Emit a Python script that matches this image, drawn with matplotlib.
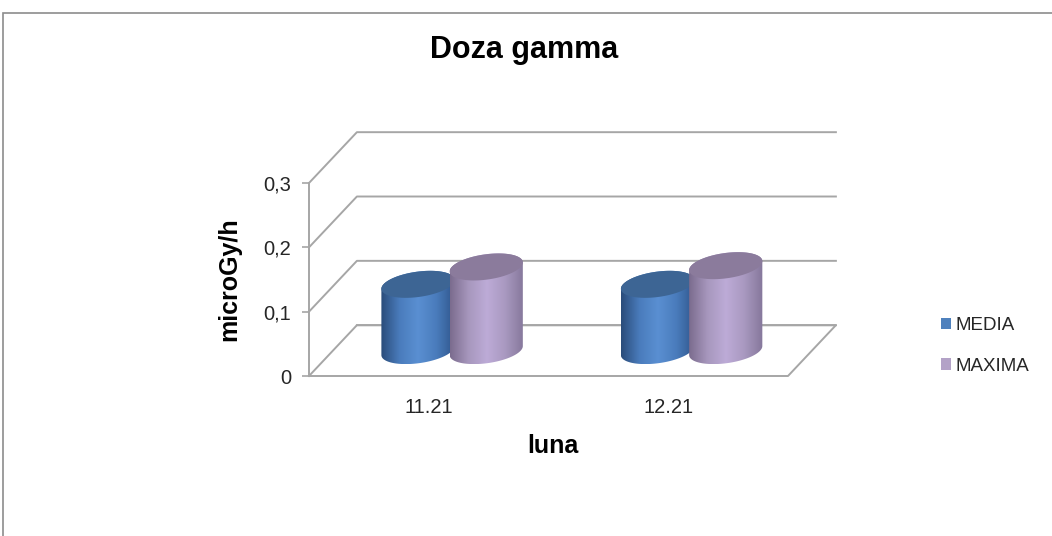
import matplotlib
matplotlib.use("Agg")
import matplotlib.pyplot as plt
import numpy as np
from matplotlib.patches import Polygon, Patch, Rectangle
from matplotlib.colors import LinearSegmentedColormap

plt.rcParams['font.family'] = ['Liberation Sans', 'DejaVu Sans']

# date
luni = ['11.21', '12.21']
media = [0.103, 0.103]
maxima = [0.130, 0.132]
serii = ['MEDIA', 'MAXIMA']
y_ticks = [0, 0.1, 0.2, 0.3]
y_tick_labels = ['0', '0,1', '0,2', '0,3']

# geometrie 3D (oblica) in unitati de date
DX, DY = 0.2, 0.079          # adancimea peretelui din spate
HALF_W = 0.144               # raza cilindrului pe x
BX, BY = 0.051, 0.021        # raza cilindrului pe adancime
OFFS = [-0.145, 0.14]        # pozitia seriilor in categorie
GRID = '#a6a6a6'

body_cols = [['#2a4c7a', '#4a7cbc', '#5a8fd2', '#4a7cbc', '#2f568c'],
             ['#7b6c8e', '#a797bd', '#bdabd7', '#a999c0', '#85779b']]
top_cols = ['#3d6594', '#8b7b9c']

fig = plt.figure(figsize=(10.52, 5.36), dpi=100)
ax = fig.add_axes([309 / 1052, 160 / 536, 479 / 1052, 193 / 536])
ax.set_xlim(0, len(luni))
ax.set_ylim(0, 0.3)

# chenarul graficului
fig.patches.append(Rectangle((3 / 1052, -0.05), 1.2, 1 - 13 / 536 + 0.05,
                             transform=fig.transFigure, fill=False,
                             edgecolor='#8c8c8c', linewidth=1.2))

# pereti si linii de grila
n = len(luni)
for v in y_ticks:
    ax.plot([0, DX, n + DX], [v, v + DY, v + DY], color=GRID, lw=1.4,
            clip_on=False, zorder=1)
ax.plot([DX, n + DX, n, 0], [DY, DY, 0, 0], color=GRID, lw=1.4,
        clip_on=False, zorder=1)


def ellipse(cx, cy, t):
    return cx + HALF_W * np.cos(t) + BX * np.sin(t), cy + BY * np.sin(t)


def cylinder(cx, val, k):
    base = DY / 2
    cx = cx + DX / 2
    t = np.linspace(0, 2 * np.pi, 361)[:-1]
    xb, yb = ellipse(cx, base, t)
    i_min, i_max = np.argmin(xb), np.argmax(xb)
    # arcul de jos al bazei si arcul de sus al capacului
    idx = np.arange(len(t))
    a1 = idx[(idx >= min(i_min, i_max)) & (idx <= max(i_min, i_max))]
    a2 = np.concatenate([idx[idx >= max(i_min, i_max)], idx[idx <= min(i_min, i_max)]])
    low = a1 if yb[a1].mean() < yb[a2].mean() else a2
    high = a2 if low is a1 else a1
    lx, ly = xb[low], yb[low]
    order = np.argsort(lx)
    hx, hy = xb[high], yb[high] + val
    order2 = np.argsort(hx)[::-1]
    pts = np.column_stack([np.concatenate([lx[order], hx[order2]]),
                           np.concatenate([ly[order], hy[order2]])])
    poly = Polygon(pts, closed=True, facecolor='none', edgecolor='none')
    ax.add_patch(poly)
    cmap = LinearSegmentedColormap.from_list('c', body_cols[k])
    grad = np.linspace(0, 1, 200).reshape(1, -1)
    im = ax.imshow(grad, cmap=cmap, aspect='auto', origin='lower',
                   extent=[xb.min(), xb.max(), base - BY, base + val + BY],
                   zorder=3 + k)
    im.set_clip_path(poly)
    xt, yt = ellipse(cx, base + val, t)
    ax.add_patch(Polygon(np.column_stack([xt, yt]), closed=True,
                         facecolor=top_cols[k], edgecolor='none', zorder=3 + k))


for i in range(n):
    cylinder(i + 0.5 + OFFS[0], media[i], 0)
    cylinder(i + 0.5 + OFFS[1], maxima[i], 1)

ax.set_xlim(0, n)
ax.set_ylim(0, 0.3)

# axe
for s in ['top', 'right', 'bottom']:
    ax.spines[s].set_visible(False)
ax.spines['left'].set_color(GRID)
ax.spines['left'].set_linewidth(1.4)
ax.set_facecolor('none')
ax.set_yticks(y_ticks)
ax.set_yticklabels(y_tick_labels, fontsize=14.5, color='#262626')
ax.tick_params(axis='y', length=5, width=1.2, color=GRID, pad=8)
ax.set_xticks(np.arange(n) + 0.5)
ax.set_xticklabels(luni, fontsize=14.5, color='#262626')
ax.tick_params(axis='x', length=0, pad=16)

ax.set_ylabel('microGy/h', fontsize=18, fontweight='bold')
ax.yaxis.set_label_coords(-0.142, 0.5)
ax.set_xlabel('luna', fontsize=18, fontweight='bold')
ax.xaxis.set_label_coords(0.509, -0.3)

fig.text(524 / 1052, 1 - 50 / 536, 'Doza gamma', fontsize=22,
         fontweight='bold', ha='center', va='center')

handles = [Patch(facecolor='#4f81bd'), Patch(facecolor='#b3a2c7')]
fig.legend(handles, serii, loc='center left', bbox_to_anchor=(924 / 1052, 1 - 346 / 536),
           frameon=False, handlelength=0.55, handleheight=0.55, handletextpad=0.25,
           labelspacing=1.25, fontsize=13.5, labelcolor='#262626')

fig.savefig('out.png', dpi=100)
